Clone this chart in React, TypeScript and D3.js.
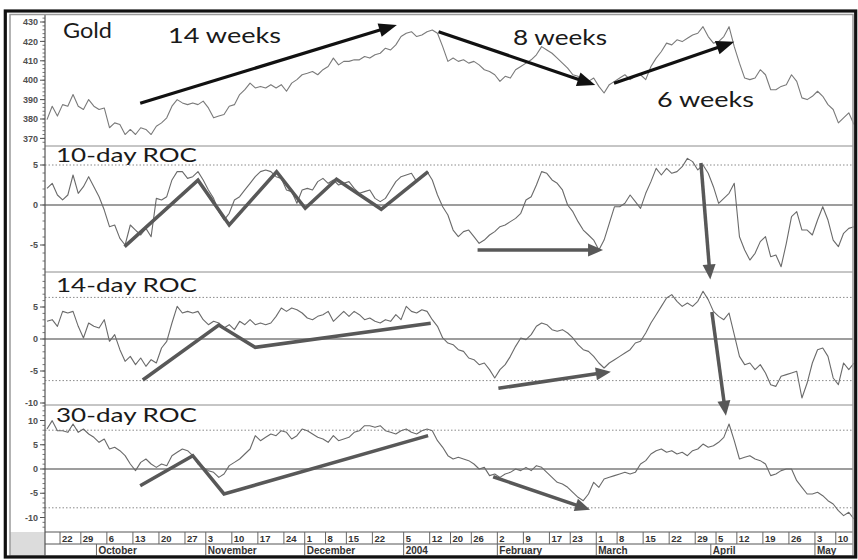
import React from "react";
import * as d3 from "d3";

// ---- series (one value per trading day) ----
const gold = [
  379.7, 386.6, 381.5, 387.4, 386.6, 392.6, 386.6, 384.9, 390.0, 386.6,
  384.9, 385.7, 375.5, 378.0, 377.2, 372.0, 374.6, 372.0, 375.5, 374.6,
  372.0, 376.3, 378.0, 380.6, 386.6, 390.0, 388.3, 387.4, 388.3, 387.4,
  389.2, 385.7, 380.6, 381.5, 382.3, 386.6, 387.4, 392.6, 395.1, 398.5,
  396.0, 396.8, 396.0, 397.7, 396.0, 397.7, 394.3, 398.5, 400.3, 402.8,
  403.6, 404.5, 402.8, 405.4, 407.1, 411.4, 407.9, 409.7, 409.7, 410.5,
  410.5, 412.2, 411.4, 413.1, 413.9, 416.5, 415.6, 418.2, 422.5, 424.2,
  425.0, 422.5, 423.3, 425.0, 425.9, 424.2, 417.3, 409.7, 411.4, 409.7,
  410.5, 408.8, 409.7, 407.9, 405.4, 404.5, 402.8, 399.4, 402.0, 401.1,
  405.4, 407.1, 408.8, 410.5, 413.1, 417.3, 415.6, 413.9, 411.4, 408.8,
  406.2, 402.8, 402.0, 398.5, 399.4, 401.1, 396.8, 393.4, 397.7, 399.4,
  401.1, 402.8, 400.3, 402.0, 402.8, 400.3, 407.1, 411.4, 414.8, 419.1,
  418.2, 420.8, 419.9, 421.6, 423.3, 424.2, 427.6, 422.5, 419.1, 419.9,
  422.5, 427.6, 417.3, 408.8, 401.1, 400.3, 401.1, 405.4, 402.8, 395.1,
  395.1, 396.8, 397.7, 402.8, 399.4, 390.9, 390.0, 391.7, 394.3, 391.7,
  387.4, 384.9, 378.0, 380.6, 383.2, 377.2,
];

const roc10 = [
  2.08, 2.71, 1.25, 0.63, 1.25, 3.75, 1.46, 2.29, 3.54, 2.29,
  1.04, -0.63, -2.71, -2.5, -4.17, -5.0, -2.5, -3.13, -3.75, -2.92,
  -3.96, 0.83, 0.63, 1.04, 3.13, 4.17, 4.17, 3.33, 3.54, 4.17,
  3.13, 1.88, 0.83, -0.83, -1.88, -1.04, 0.63, 1.04, 1.88, 2.71,
  3.54, 4.17, 4.38, 4.17, 3.54, 3.33, 1.88, 1.67, 0.21, 1.88,
  2.08, 1.88, 2.92, 3.33, 2.71, 3.13, 2.5, 2.71, 2.92, 2.08,
  1.46, 1.67, 1.88, 0.83, 0.42, 0.83, 1.88, 2.92, 3.54, 3.75,
  3.96, 2.92, 3.54, 4.17, 3.13, 1.25, -0.21, -1.25, -3.13, -3.96,
  -3.33, -3.13, -3.96, -4.79, -4.38, -3.75, -3.33, -2.71, -2.5, -2.08,
  -1.67, -1.04, 0.63, 1.04, 2.5, 4.17, 3.96, 3.13, 2.71, 1.88,
  0, -0.83, -2.08, -3.13, -3.75, -4.38, -5.63, -4.38, -2.29, -0.21,
  -0.21, 0.21, 1.25, 0.42, -0.42, 1.46, 2.92, 4.58, 3.75, 4.58,
  3.96, 4.17, 4.79, 5.83, 5.42, 4.38, 5.0, 3.96, 2.29, 0.21,
  0.83, 1.46, 2.71, -3.96, -5.63, -6.88, -6.04, -4.58, -3.96, -6.46,
  -6.25, -7.71, -4.79, -1.46, -0.83, -3.13, -3.13, -3.75, -1.88, -0.21,
  -1.88, -4.38, -5.21, -3.54, -2.92, -2.71,
];

const roc14 = [
  2.76, 3.02, 1.98, 4.32, 4.06, 4.32, 1.98, 0.16, 2.5, 1.98,
  1.72, 3.02, -0.36, 0.68, -1.67, -3.49, -2.71, -4.01, -2.97, -4.27,
  -3.23, -3.75, -1.41, -0.36, 2.5, 5.1, 4.06, 4.32, 4.06, 4.32,
  3.02, 2.24, 2.76, 2.5, 1.72, 2.24, 1.46, 2.76, 2.24, 3.02,
  2.24, 2.5, 2.24, 2.5, 3.54, 4.84, 4.32, 4.84, 4.58, 4.06,
  3.28, 3.02, 3.54, 3.8, 4.32, 2.76, 3.54, 4.32, 3.54, 4.32,
  3.8, 3.02, 3.28, 2.76, 2.5, 3.02, 2.76, 3.8, 3.02, 5.1,
  4.32, 4.06, 4.58, 4.32, 3.02, 1.98, 0.16, -0.63, -0.89, -1.67,
  -1.93, -2.97, -3.23, -4.01, -3.75, -4.79, -6.09, -4.79, -4.01, -2.71,
  -1.15, 0.16, -0.1, 0.68, 1.98, 2.5, 2.24, 1.46, 1.2, 1.46,
  0.94, 0.16, -0.89, -1.67, -1.93, -2.71, -3.75, -4.53, -3.75, -3.23,
  -2.71, -2.19, -1.67, -0.63, -0.36, 0.94, 2.5, 3.8, 5.1, 6.41,
  6.93, 5.89, 5.1, 5.63, 5.1, 5.89, 7.45, 6.15, 4.32, 3.54,
  3.02, 4.06, 0.68, -2.71, -4.01, -3.75, -4.79, -4.01, -5.31, -7.14,
  -7.4, -5.83, -5.57, -5.31, -5.05, -9.22, -6.88, -3.75, -1.67, -1.41,
  -2.71, -6.09, -7.14, -3.75, -4.79, -3.75,
];

const roc30 = [
  8.25, 9.97, 7.9, 7.9, 7.56, 9.28, 7.56, 8.25, 7.22, 6.53,
  5.5, 6.19, 4.12, 4.47, 3.78, 2.75, 1.03, -0.34, 1.37, 2.06,
  1.03, 0.34, 1.03, 0.69, 2.75, 3.44, 4.12, 3.78, 2.75, 1.03,
  0.34, -0.34, -0.69, -1.72, -1.03, 0.69, 1.37, 2.06, 3.09, 4.12,
  6.87, 5.84, 6.53, 7.22, 6.87, 7.9, 7.56, 6.19, 6.87, 8.25,
  7.9, 7.22, 6.53, 6.19, 5.5, 6.87, 5.84, 6.19, 6.53, 7.56,
  7.9, 8.93, 8.93, 8.59, 8.93, 7.9, 7.56, 7.22, 7.9, 8.25,
  7.56, 7.22, 7.9, 8.25, 7.9, 5.84, 4.47, 2.75, 2.06, 2.41,
  2.06, 1.72, 1.03, 0, 0.34, -1.37, -1.03, -1.72, -1.03, -0.69,
  0, -0.34, 0.34, -0.34, 0.69, 0.34, -0.69, -1.72, -2.75, -3.09,
  -3.78, -4.81, -5.84, -6.53, -5.15, -2.75, -3.78, -2.06, -1.72, -1.37,
  -1.03, -0.69, -1.03, -0.69, 1.03, 1.72, 3.09, 3.78, 4.12, 3.44,
  3.78, 3.09, 3.44, 2.75, 3.78, 4.12, 5.15, 4.47, 4.81, 5.5,
  6.53, 9.28, 5.84, 2.06, 2.41, 2.75, 2.06, 1.72, 1.03, -1.37,
  -1.03, -0.34, 0, 0, -2.41, -3.78, -5.15, -5.15, -4.81, -5.5,
  -6.53, -7.22, -8.59, -9.62, -8.93, -10.31,
];

// ---- axis labels ----
const weekLabels = ["22", "29", "6", "13", "20", "27", "3", "10", "17", "24", "1", "8", "15", "22", "5", "12", "20", "26", "2", "9", "17", "23", "1", "8", "15", "22", "29", "5", "12", "19", "26", "3", "10"];
const weekStarts = [3, 7, 12, 17, 22, 27, 31, 36, 41, 46, 50, 54, 58, 63, 69, 74, 78, 82, 87, 92, 97, 101, 106, 110, 115, 120, 125, 129, 133, 138, 143, 148, 152];
const monthLabels = ["October", "November", "December", "2004", "February", "March", "April", "May"];
const monthStarts = [10, 31, 50, 69, 87, 106, 128, 148];

const goldTicks = [430, 420, 410, 400, 390, 380, 370];
const roc10Ticks = [5, 0, -5];
const roc14Ticks = [5, 0, -5, -10];
const roc30Ticks = [10, 5, 0, -5, -10];
const roc10Bands = [5];
const roc14Bands = [6.5, -6.5];
const roc30Bands = [8, -8];

// ---- annotations, in (day index, value) ----
const goldArrows = [
  [[17.9, 388.1], [67.2, 428.5]],
  [[75.2, 425.0], [105.3, 397.5]],
  [[108.9, 398.4], [132.0, 419.8]],
];
const roc10Zigzag = [[14.9, -5.2], [29.0, 3.1], [35.0, -2.5], [44.1, 4.16], [49.6, -0.41], [55.6, 3.21], [64.2, -0.54], [73.2, 4.16]];
const roc10Arrows = [
  [[82.7, -5.63], [106.8, -5.63]],
  [[125.6, 5.25], [127.4, -9.3]],
];
const roc14Trend = [[18.4, -6.4], [33.0, 2.19], [40.0, -1.3], [73.7, 2.45]];
const roc14Arrows = [
  [[86.7, -7.7], [108.3, -5.1]],
  [[127.7, 4.22], [130.4, -12.0]],
];
const roc30Trend = [[17.9, -3.44], [28.0, 2.75], [34.0, -5.15], [73.2, 6.87]];
const roc30Arrows = [[[85.7, -1.6], [104.3, -8.4]]];

type P = number[];

function arrowShape(a: P, b: P, headLen: number, headW: number) {
  const dx = b[0] - a[0], dy = b[1] - a[1];
  const L = Math.hypot(dx, dy);
  const ux = dx / L, uy = dy / L;
  const bx = b[0] - ux * headLen, by = b[1] - uy * headLen;
  const px = -uy, py = ux;
  return {
    shaft: [a[0], a[1], bx + ux * 2, by + uy * 2],
    head: `${b[0]},${b[1]} ${bx + (px * headW) / 2},${by + (py * headW) / 2} ${bx - (px * headW) / 2},${by - (py * headW) / 2}`,
  };
}

export default function App() {
  const W = 858, H = 560;
  const left = 45, right = 853;
  const x = d3.scaleLinear().domain([0, gold.length - 1]).range([47, 854]);
  const yGold = d3.scaleLinear().domain([370, 430]).range([138.4, 22]);
  const y10 = d3.scaleLinear().domain([-5, 5]).range([245, 165]);
  const y14 = d3.scaleLinear().domain([-5, 5]).range([371, 307]);
  const y30 = d3.scaleLinear().domain([-10, 10]).range([517.5, 420.5]);

  const panels = [
    { name: "Gold", data: gold, y: yGold, top: 14.5, bottom: 146, major: goldTicks, step: 2, zero: false, bands: [] as number[], color: "#7a7a7a", tx: 63, ty: 37.5, tl: 49, fs: 21 },
    { name: "10-day ROC", data: roc10, y: y10, top: 146, bottom: 272, major: roc10Ticks, step: 1, zero: true, bands: roc10Bands, color: "#6a6a6a", tx: 56, ty: 162, tl: 141, fs: 20 },
    { name: "14-day ROC", data: roc14, y: y14, top: 272, bottom: 405, major: roc14Ticks, step: 1, zero: true, bands: roc14Bands, color: "#6a6a6a", tx: 56, ty: 292, tl: 141, fs: 20 },
    { name: "30-day ROC", data: roc30, y: y30, top: 405, bottom: 532, major: roc30Ticks, step: 1, zero: true, bands: roc30Bands, color: "#6a6a6a", tx: 56, ty: 422, tl: 141, fs: 20 },
  ];

  const titleFont = "Lato, 'Open Sans', 'Liberation Sans', sans-serif";
  const tickFont = "'Liberation Sans', Arial, sans-serif";

  const toPx = (pt: P, y: d3.ScaleLinear<number, number>) => [x(pt[0]), y(pt[1])];

  const renderArrow = (pts: P[], y: d3.ScaleLinear<number, number>, color: string, w: number, hl: number, hw: number, key: string) => {
    const a = toPx(pts[0], y), b = toPx(pts[1], y);
    const s = arrowShape(a, b, hl, hw);
    return (
      <g key={key}>
        <line x1={s.shaft[0]} y1={s.shaft[1]} x2={s.shaft[2]} y2={s.shaft[3]} stroke={color} strokeWidth={w} />
        <polygon points={s.head} fill={color} />
      </g>
    );
  };

  const polyline = (pts: P[], y: d3.ScaleLinear<number, number>) =>
    d3.line<P>().x((d) => x(d[0])).y((d) => y(d[1]))(pts) as string;

  const annoGray = "#585858";

  return (
    <svg width={W} height={H} style={{ position: "absolute", left: 0, top: 0, background: "#fff" }}>
      <rect x={0} y={0} width={W} height={H} fill="#fff" />

      {panels.map((p, pi) => {
        const lo = p.y.invert(p.bottom), hi = p.y.invert(p.top);
        const minors = d3.range(Math.ceil(lo / p.step) * p.step, hi, p.step);
        const line = d3.line<number>().x((_, i) => x(i)).y((d) => p.y(d));
        return (
          <g key={p.name}>
            {pi > 0 && <line x1={left} x2={right} y1={p.top} y2={p.top} stroke="#8c8c8c" strokeWidth={1} />}
            {p.bands.map((b) => (
              <line key={"b" + b} x1={left} x2={right} y1={p.y(b)} y2={p.y(b)} stroke="#8a8a8a" strokeWidth={1} strokeDasharray="1.5,2" />
            ))}
            {p.zero && <line x1={left} x2={right} y1={p.y(0)} y2={p.y(0)} stroke="#7d7d7d" strokeWidth={1.3} />}
            {minors.map((m) => (
              <line key={"m" + m} x1={left - 2.5} x2={left} y1={p.y(m)} y2={p.y(m)} stroke="#555" strokeWidth={0.8} />
            ))}
            {p.major.map((t) => (
              <g key={"t" + t}>
                <line x1={left - 5} x2={left} y1={p.y(t)} y2={p.y(t)} stroke="#555" strokeWidth={1} />
                <text x={left - 7} y={p.y(t)} dy="0.35em" textAnchor="end" fontFamily={tickFont} fontSize={9} fontWeight="bold" fill="#505050">
                  {t}
                </text>
              </g>
            ))}
            <path d={line(p.data) as string} fill="none" stroke={p.color} strokeWidth={1.1} strokeLinejoin="round" />
            <text x={p.tx} y={p.ty} fontFamily={titleFont} fontSize={p.fs} fill="#1a1a1a" textLength={p.tl} lengthAdjust="spacingAndGlyphs">
              {p.name}
            </text>
          </g>
        );
      })}

      {/* gold annotations */}
      {goldArrows.map((a, i) => renderArrow(a, yGold, "#111", 3.2, 18, 14, "ga" + i))}
      <text x={168} y={43} fontFamily={titleFont} fontSize={22} fill="#1a1a1a" textLength={113} lengthAdjust="spacingAndGlyphs">14 weeks</text>
      <text x={513} y={44.5} fontFamily={titleFont} fontSize={22} fill="#1a1a1a" textLength={94} lengthAdjust="spacingAndGlyphs">8 weeks</text>
      <text x={657} y={106.5} fontFamily={titleFont} fontSize={22} fill="#1a1a1a" textLength={97} lengthAdjust="spacingAndGlyphs">6 weeks</text>

      {/* ROC annotations */}
      <path d={polyline(roc10Zigzag, y10)} fill="none" stroke={annoGray} strokeWidth={3.5} strokeLinejoin="miter" />
      {roc10Arrows.map((a, i) => renderArrow(a, y10, annoGray, 3.5, 15, 13, "r10" + i))}
      <path d={polyline(roc14Trend, y14)} fill="none" stroke={annoGray} strokeWidth={3.5} strokeLinejoin="miter" />
      {roc14Arrows.map((a, i) => renderArrow(a, y14, annoGray, 3.5, 15, 13, "r14" + i))}
      <path d={polyline(roc30Trend, y30)} fill="none" stroke={annoGray} strokeWidth={3.5} strokeLinejoin="miter" />
      {roc30Arrows.map((a, i) => renderArrow(a, y30, annoGray, 3.5, 15, 13, "r30" + i))}

      {/* date axis */}
      <rect x={10} y={532} width={left - 10} height={24} fill="#dcdcdc" />
      <line x1={left} x2={right} y1={532} y2={532} stroke="#555" strokeWidth={1} />
      <line x1={left} x2={right} y1={544} y2={544} stroke="#555" strokeWidth={1} />
      {weekStarts.map((w, i) => {
        const sx = x(w - 0.5);
        return (
          <g key={"w" + i}>
            <line x1={sx} x2={sx} y1={532} y2={544} stroke="#666" strokeWidth={1} />
            <text x={sx + 2} y={541.5} fontFamily={tickFont} fontSize={9.5} fontWeight="bold" fill="#333">{weekLabels[i]}</text>
          </g>
        );
      })}
      {monthStarts.map((m, i) => {
        const sx = x(m - 0.5);
        return (
          <g key={"mo" + i}>
            <line x1={sx} x2={sx} y1={544} y2={556} stroke="#666" strokeWidth={1} />
            <text x={sx + 2} y={553.5} fontFamily={tickFont} fontSize={10} fontWeight="bold" fill="#333">{monthLabels[i]}</text>
          </g>
        );
      })}

      {/* axis line and frame */}
      <line x1={left} x2={left} y1={14.5} y2={556} stroke="#555" strokeWidth={1.2} />
      <rect x={10} y={14.5} width={843} height={541.5} fill="none" stroke="#9a9a9a" strokeWidth={1.5} />
      <rect x={5.3} y={11} width={850.4} height={546} fill="none" stroke="#111" strokeWidth={3.2} />
    </svg>
  );
}
